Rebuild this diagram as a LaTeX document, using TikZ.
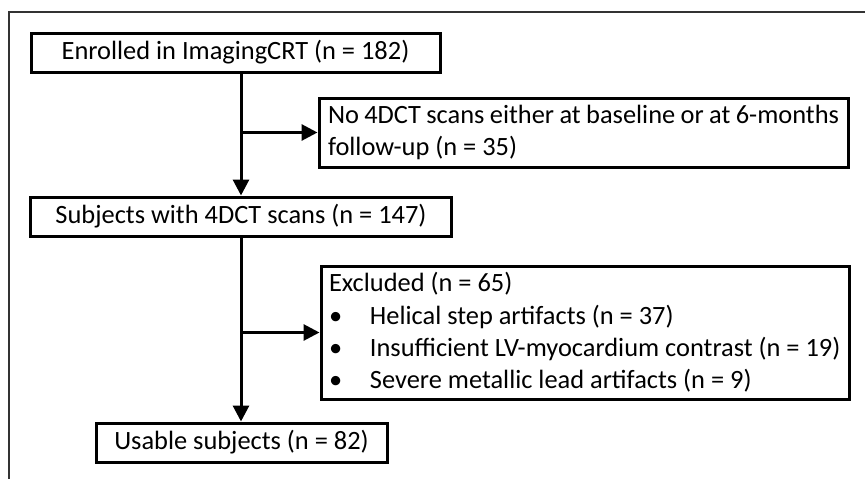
\documentclass[tikz,border=0pt]{standalone}
\usepackage{fontspec}
\setmainfont{Carlito}
\usetikzlibrary{arrows.meta}
\begin{document}
\begin{tikzpicture}[x=1pt,y=-1pt,
  box/.style={draw, line width=3pt, inner ysep=0pt, font=\fontsize{26.4}{32.4}\selectfont},
  flow/.style={line width=3pt, -{Triangle[length=16pt,width=16pt]}}]
\useasboundingbox (0,0) rectangle (865,479);
\draw[line width=1.6pt, black!80] (9,479) -- (9,12) -- (865,12);
\node[box, inner xsep=0pt, minimum width=409pt, minimum height=39pt] (b1) at (235.5,52.5) {Enrolled in ImagingCRT (n = 182)};
\node[box, inner xsep=9pt, text width=511pt, align=flush left, minimum height=69pt] (b2) at (583.5,132.5) {No 4DCT scans either at baseline or at 6-months\\follow-up (n = 35)};
\node[box, inner xsep=0pt, minimum width=421pt, minimum height=39pt] (b3) at (241,216.5) {Subjects with 4DCT scans (n = 147)};
\node[box, inner xsep=8pt, text width=512pt, align=flush left, minimum height=133pt] (b4) at (585,332.5) {Excluded (n = 65)\\
\makebox[41pt][l]{\textbullet}Helical step artifacts (n = 37)\\
\makebox[41pt][l]{\textbullet}Insufficient LV-myocardium contrast (n = 19)\\
\makebox[41pt][l]{\textbullet}Severe metallic lead artifacts (n = 9)};
\node[box, inner xsep=0pt, minimum width=291pt, minimum height=39pt] (b5) at (241.5,442.5) {Usable subjects (n = 82)};
\coordinate (j1) at (b3.north |- b2.west);
\coordinate (j2) at (b3.south |- b4.west);
\draw[flow] (b1.south -| b3.north) -- (b3.north);
\draw[flow] (j1) -- (b2.west);
\draw[flow] (b3.south) -- (b3.south |- b5.north);
\draw[flow] (j2) -- (b4.west);
\end{tikzpicture}
\end{document}
